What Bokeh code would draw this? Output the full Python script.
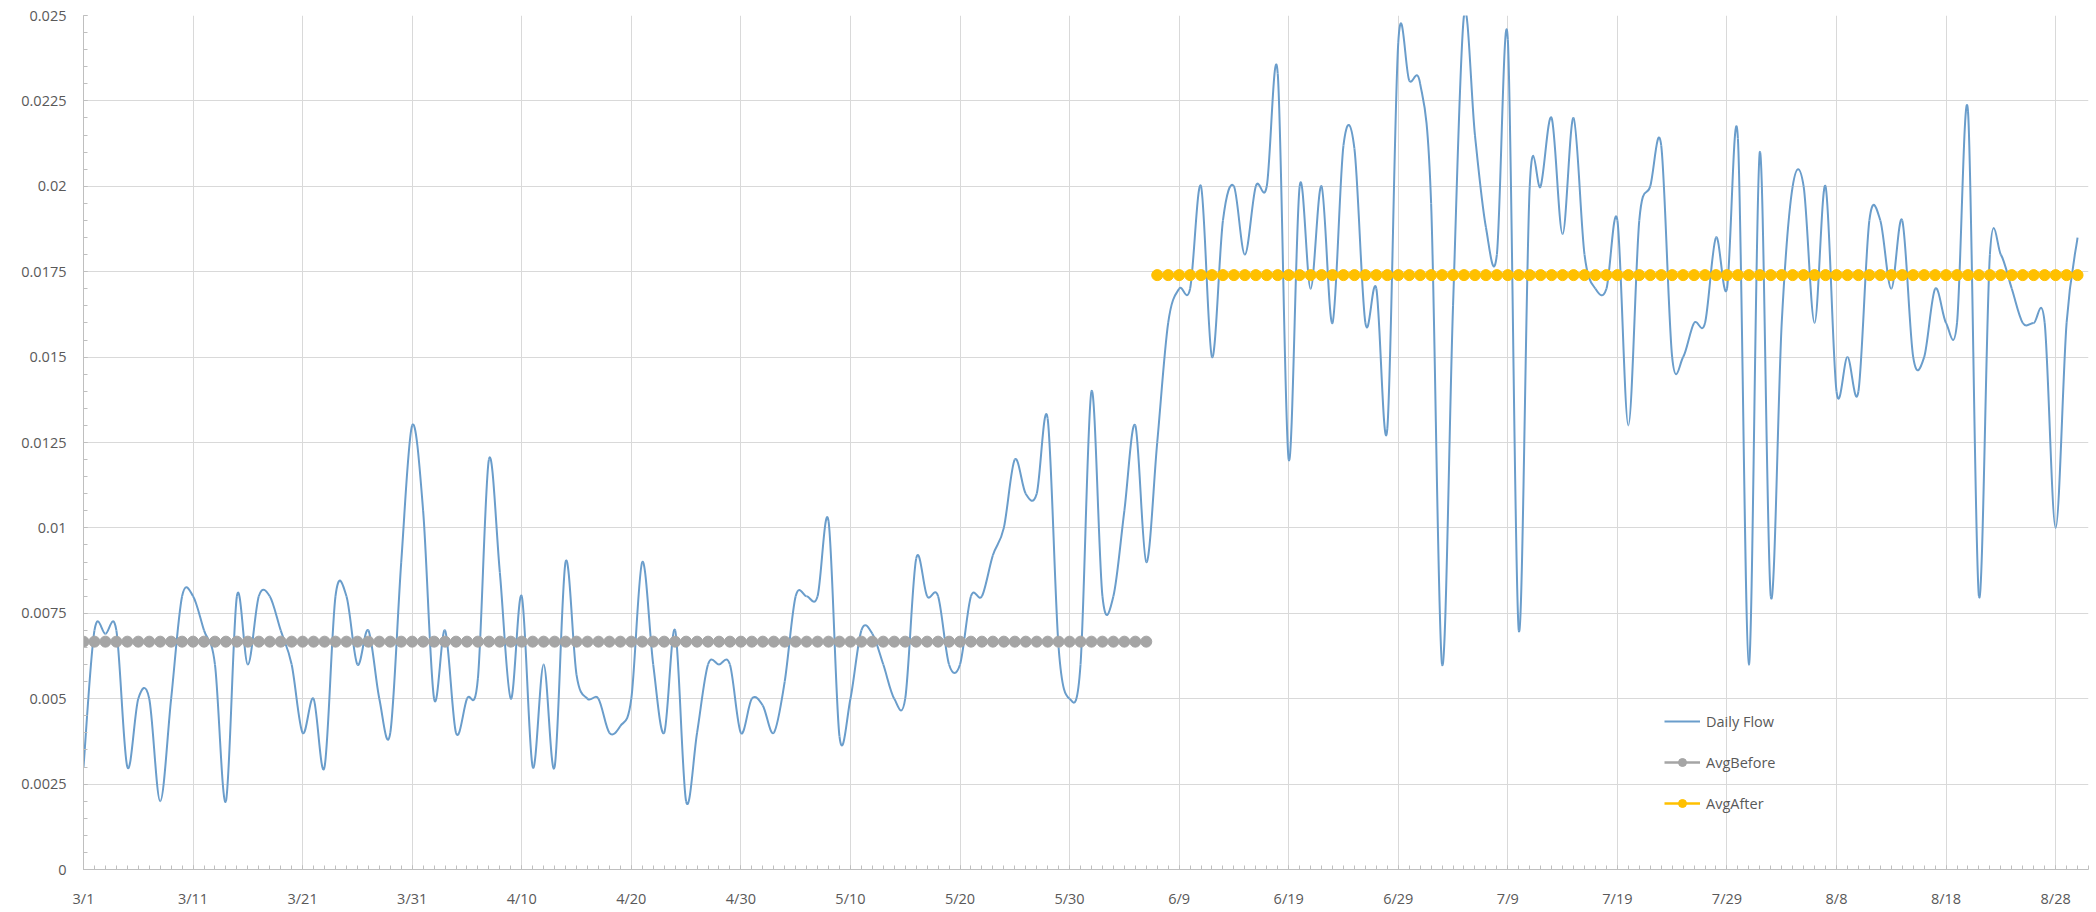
from bokeh.plotting import figure
from bokeh.models import FixedTicker, Range1d, Legend, LegendItem, ColumnDataSource
from bokeh.embed import file_html
from bokeh.resources import INLINE

# ---------------- data ----------------
months = [(3, 31), (4, 30), (5, 31), (6, 30), (7, 31), (8, 31)]
dates = [f"{m}/{d}" for m, n in months for d in range(1, n + 1)]   # 3/1 .. 8/31

daily_flow = [
    0.003, 0.007, 0.0069, 0.007, 0.003, 0.005, 0.005, 0.002, 0.005, 0.008,
    0.008, 0.007, 0.006, 0.002, 0.008, 0.006, 0.008, 0.008, 0.007, 0.006,
    0.004, 0.005, 0.003, 0.008, 0.008, 0.006, 0.007, 0.005, 0.004, 0.009,
    0.013, 0.0105, 0.005, 0.007, 0.004, 0.005, 0.0056, 0.012, 0.0087, 0.005,
    0.008, 0.003, 0.006, 0.003, 0.009, 0.0057, 0.005, 0.005, 0.004, 0.0042,
    0.005, 0.009, 0.006, 0.004, 0.007, 0.002, 0.004, 0.006, 0.006, 0.006,
    0.004, 0.005, 0.0048, 0.004, 0.0055, 0.008, 0.008, 0.008, 0.0102, 0.0039,
    0.005, 0.007, 0.0069, 0.006, 0.005, 0.005, 0.0091, 0.008, 0.008, 0.006,
    0.006, 0.008, 0.008, 0.0092, 0.010, 0.012, 0.011, 0.011, 0.0132, 0.0065,
    0.005, 0.006, 0.014, 0.008, 0.008, 0.0105, 0.013, 0.009, 0.0125, 0.016,
    0.017, 0.017, 0.020, 0.015, 0.019, 0.020, 0.018, 0.020, 0.020, 0.0233,
    0.012, 0.020, 0.017, 0.020, 0.016, 0.0212, 0.0211, 0.016, 0.017, 0.0129,
    0.0242, 0.0231, 0.023, 0.0195, 0.006, 0.0165, 0.025, 0.0215, 0.0188, 0.018,
    0.0243, 0.007, 0.020, 0.020, 0.022, 0.0186, 0.022, 0.018, 0.017, 0.017,
    0.019, 0.013, 0.019, 0.020, 0.0212, 0.015, 0.015, 0.016, 0.016, 0.0185,
    0.017, 0.0214, 0.006, 0.021, 0.008, 0.016, 0.020, 0.020, 0.016, 0.020,
    0.014, 0.015, 0.014, 0.019, 0.019, 0.017, 0.019, 0.015, 0.015, 0.017,
    0.016, 0.016, 0.0222, 0.008, 0.018, 0.018, 0.017, 0.016, 0.016, 0.016,
    0.010, 0.016, 0.0185,
]

avg_before_value = 0.00667
avg_after_value = 0.0174
before_days = dates[:98]                  # 3/1 .. 6/6
after_days = dates[98:len(daily_flow)]    # 6/7 .. 8/30

x_tick_labels = ["3/1", "3/11", "3/21", "3/31", "4/10", "4/20", "4/30", "5/10", "5/20",
                 "5/30", "6/9", "6/19", "6/29", "7/9", "7/19", "7/29", "8/8", "8/18", "8/28"]
y_ticks = [0, 0.0025, 0.005, 0.0075, 0.01, 0.0125, 0.015, 0.0175, 0.02, 0.0225, 0.025]
y_tick_labels = ["0", "0.0025", "0.005", "0.0075", "0.01", "0.0125", "0.015", "0.0175",
                 "0.02", "0.0225", "0.025"]

# ---------------- derived positions ----------------
pos = {d: i for i, d in enumerate(dates)}
xs = [pos[d] for d in dates[:len(daily_flow)]]

# smooth line (Excel-like) as cubic bezier segments through the data points
n = len(daily_flow)
seg = dict(x0=[], y0=[], x1=[], y1=[], cx0=[], cy0=[], cx1=[], cy1=[])
for i in range(n - 1):
    a, b = max(i - 1, 0), min(i + 2, n - 1)
    x0, y0 = xs[i], daily_flow[i]
    x1, y1 = xs[i + 1], daily_flow[i + 1]
    seg["x0"].append(x0); seg["y0"].append(y0)
    seg["x1"].append(x1); seg["y1"].append(y1)
    seg["cx0"].append(x0 + (x1 - xs[a]) / 6.0)
    seg["cy0"].append(y0 + (y1 - daily_flow[a]) / 6.0)
    seg["cx1"].append(x1 - (xs[b] - x0) / 6.0)
    seg["cy1"].append(y1 - (daily_flow[b] - y0) / 6.0)

FONT = "Open Sans"
TXT = "#595959"
FS = "14.5px"

p = figure(width=2090, height=910,
           x_range=Range1d(0, len(dates) - 1), y_range=Range1d(0, 0.025),
           output_backend="svg", toolbar_location=None,
           min_border_left=83, min_border_right=2, min_border_top=15, min_border_bottom=39)
p.outline_line_color = None
p.background_fill_color = "white"

bez = p.bezier(x0="x0", y0="y0", x1="x1", y1="y1", cx0="cx0", cy0="cy0", cx1="cx1", cy1="cy1",
               source=ColumnDataSource(seg), line_color="#6A9DCB", line_width=2)

bsrc = ColumnDataSource(dict(x=[pos[d] for d in before_days], y=[avg_before_value] * len(before_days)))
asrc = ColumnDataSource(dict(x=[pos[d] for d in after_days], y=[avg_after_value] * len(after_days)))
gl = p.line("x", "y", source=bsrc, line_color="#A5A5A5", line_width=2.5)
gs = p.scatter("x", "y", source=bsrc, size=11, fill_color="#A5A5A5", line_color="#A5A5A5")
yl = p.line("x", "y", source=asrc, line_color="#FFC000", line_width=2.5)
ys = p.scatter("x", "y", source=asrc, size=11, fill_color="#FFC000", line_color="#FFC000")

# axes
p.xaxis.ticker = FixedTicker(ticks=[pos[d] for d in x_tick_labels],
                             minor_ticks=list(range(len(dates))))
p.xaxis.major_label_overrides = {pos[d]: d for d in x_tick_labels}
p.yaxis.ticker = FixedTicker(ticks=y_ticks,
                             minor_ticks=[k * 0.0005 for k in range(51)])
p.yaxis.major_label_overrides = dict(zip(y_ticks, y_tick_labels))

for ax in (p.xaxis, p.yaxis):
    ax.axis_line_color = "#BFBFBF"
    ax.major_tick_line_color = "#BFBFBF"
    ax.minor_tick_line_color = "#BFBFBF"
    ax.major_tick_in = 4
    ax.major_tick_out = 0
    ax.minor_tick_in = 4
    ax.minor_tick_out = 0
    ax.major_label_text_font = FONT
    ax.major_label_text_font_size = FS
    ax.major_label_text_color = TXT
p.yaxis.major_label_standoff = 17
p.xaxis.major_label_standoff = 19

p.xgrid.grid_line_color = "#D9D9D9"
p.ygrid.grid_line_color = "#D9D9D9"
p.xgrid.ticker = p.xaxis.ticker
p.ygrid.ticker = p.yaxis.ticker

legend = Legend(items=[LegendItem(label="Daily Flow", renderers=[bez]),
                       LegendItem(label="AvgBefore", renderers=[gl, gs]),
                       LegendItem(label="AvgAfter", renderers=[yl, ys])],
                location=(1581, 56), orientation="vertical",
                border_line_color=None, background_fill_alpha=0,
                glyph_width=36, glyph_height=20, label_height=20, spacing=21,
                label_standoff=6, padding=0, margin=0,
                label_text_font=FONT, label_text_font_size=FS, label_text_color=TXT)
p.add_layout(legend)

open("out.html", "w").write(file_html(p, INLINE))
